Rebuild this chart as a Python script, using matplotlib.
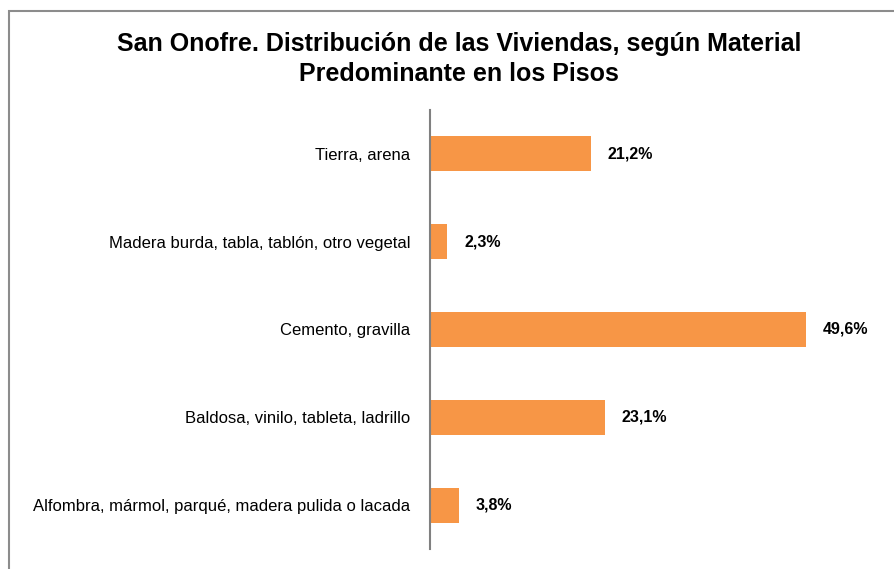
import matplotlib.pyplot as plt
from matplotlib.patches import Rectangle

categorias = ["Tierra, arena",
              "Madera burda, tabla, tablón, otro vegetal",
              "Cemento, gravilla",
              "Baldosa, vinilo, tableta, ladrillo",
              "Alfombra, mármol, parqué, madera pulida o lacada"]
valores = [21.2, 2.3, 49.6, 23.1, 3.8]
etiquetas = ["21,2%", "2,3%", "49,6%", "23,1%", "3,8%"]

plt.rcParams['font.family'] = ['Liberation Sans', 'DejaVu Sans']

fig = plt.figure(figsize=(8.94, 5.69), dpi=100)
ax = fig.add_axes([430/894, 20/569, 440/894, 439/569])

y = list(range(len(categorias)))[::-1]
ax.barh(y, valores, height=0.4, color="#F79646")
for yi, v, t in zip(y, valores, etiquetas):
    ax.text(v + 2.2, yi, t, va="center", ha="left", fontsize=11.5, fontweight="bold")

ax.set_yticks(y)
ax.set_yticklabels(categorias, fontsize=12)
ax.tick_params(axis="y", length=0, pad=14)
ax.set_xticks([])
ax.set_xlim(0, 58)
ax.set_ylim(-0.5, 4.5)
for s in ["top", "right", "bottom"]:
    ax.spines[s].set_visible(False)
ax.spines["left"].set_color("#808080")
ax.spines["left"].set_linewidth(1.5)

fig.text(459/894, 1 - 59/569, "San Onofre. Distribución de las Viviendas, según Material\nPredominante en los Pisos",
         ha="center", va="center", fontsize=18, fontweight="bold", linespacing=1.3)

fig.patches.append(Rectangle((9/894, -0.1), 1.2, 1 - 11/569 + 0.1, transform=fig.transFigure,
                             fill=False, edgecolor="#8c8c8c", linewidth=1.5))

fig.savefig("out.png", dpi=100)
